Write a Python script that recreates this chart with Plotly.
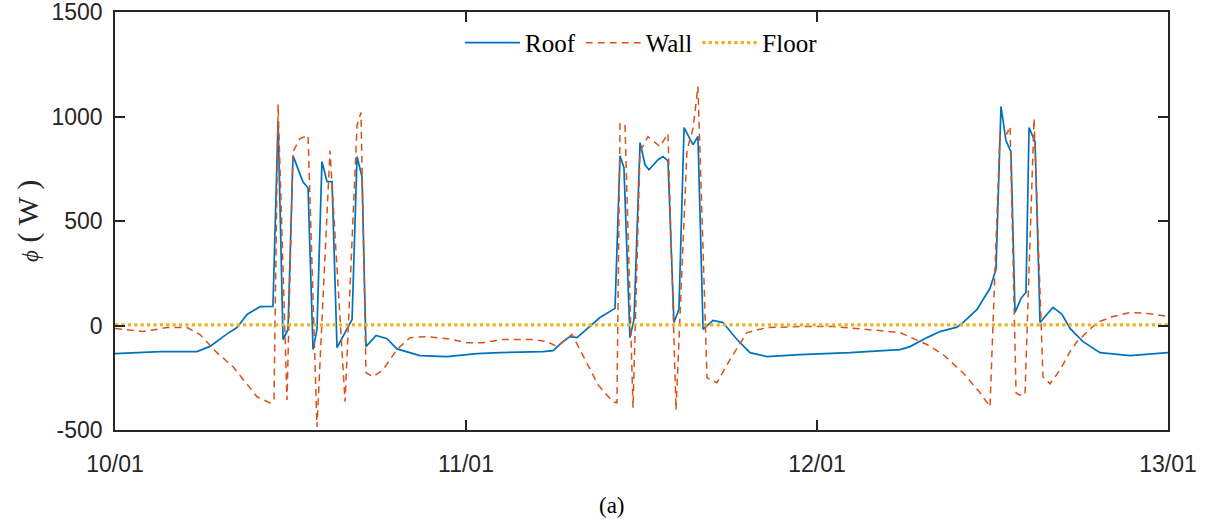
import plotly.graph_objects as go

# time in hours from 10/01 00:00
roof_h = [0, 3.08, 5.61, 6.50, 7.66, 8.34, 9.03, 9.91, 10.80, 11.15, 11.49, 11.83, 12.17, 12.85, 13.20,
          13.54, 13.81, 14.15, 14.50, 14.84, 15.18, 16.21, 16.55, 16.89, 17.16, 17.85, 18.60, 19.28,
          20.85, 22.70, 24.75, 26.32, 29.26, 29.95, 30.63, 31.11, 31.59, 32.48, 33.16, 34.19, 34.53,
          34.80, 35.21, 35.49, 35.90, 36.24, 36.51, 37.13, 37.47, 37.81, 38.22, 38.56, 38.91, 39.52,
          39.86, 40.21, 40.89, 41.57, 42.53, 43.42, 44.58, 46.84, 50.26, 53.68, 54.36, 55.52, 56.41,
          57.57, 57.98, 58.94, 59.83, 60.24, 60.58, 60.92, 61.26, 61.54, 61.95, 62.29, 62.50, 62.91,
          63.25, 63.59, 64.14, 64.75, 65.30, 66.19, 67.35, 69.40, 72]
roof_val = [-135, -125, -125, -100, -40, -10, 53, 90, 91, 976, -67, -19, 813, 687, 658,
            -115, -19, 784, 688, 688, -106, 29, 808, 711, -101, -48, -63, -112,
            -144, -149, -135, -130, -125, -120, -77, -53, -58, -5, 38, 82, 812,
            755, -58, 29, 875, 769, 745, 793, 808, 788, 14, 77, 947, 865,
            904, -19, 24, 14, -67, -130, -149, -139, -130, -115, -101, -58, -29,
            -8, 14, 77, 178, 269, 1048, 885, 832, 62, 130, 159, 947, 880,
            14, 43, 87, 53, -14, -77, -130, -144, -130]

wall_h = [0, 1.91, 3.56, 4.92, 5.81, 6.97, 8.07, 9.03, 9.71, 10.60, 10.87, 11.15, 11.76, 12.17,
          12.65, 13.20, 13.81, 14.70, 15.73, 16.55, 16.82, 17.16, 17.64, 18.32, 19.28, 20.17, 21.33,
          22.70, 24.07, 25.16, 26.53, 28.58, 29.54, 30.22, 31.25, 31.79, 32.48, 33.03, 34.05, 34.32,
          34.53, 34.87, 35.42, 35.90, 36.44, 37.26, 37.81, 38.36, 39.11, 39.52, 39.86, 40.48, 41.16,
          42.05, 43.21, 44.58, 46.84, 49.09, 51.42, 53.68, 55.52, 56.62, 57.98, 59.15, 59.83, 60.51,
          60.99, 61.20, 61.61, 61.81, 62.22, 62.84, 63.45, 63.93, 64.62, 65.30, 65.78, 67.15, 68.24,
          69.40, 70.56, 72]
wall_val = [-14, -29, -10, -10, -43, -130, -197, -284, -341, -370, -360, 1058, -356, 832,
            894, 909, -486, 837, -365, 957, 1019, -226, -245, -212, -115, -58, -53,
            -63, -82, -82, -67, -67, -77, -101, -43, -115, -212, -284, -365, -370,
            966, 962, -394, 832, 904, 856, 918, -404, 837, 942, 1144, -250, -274,
            -163, -34, -10, -5, -5, -19, -34, -91, -139, -226, -322, -389, 918,
            918, 952, -322, -332, -332, 990, -245, -279, -212, -125, -77, 14, 43,
            62, 58, 43]

floor_h = [0, 72]
floor_val = [3, 3]

x_tickvals = [0, 24, 48, 72]
x_ticktext = ["10/01", "11/01", "12/01", "13/01"]
y_tickvals = [-500, 0, 500, 1000, 1500]
y_ticktext = ["-500", "0", "500", "1000", "1500"]

SERIF = "Liberation Serif, DejaVu Serif, serif"
SANS = "Liberation Sans, Arial, sans-serif"

fig = go.Figure()
fig.add_trace(go.Scatter(x=roof_h, y=roof_val, mode="lines", name="Roof",
                         line=dict(color="#0072BD", width=1.7)))
fig.add_trace(go.Scatter(x=wall_h, y=wall_val, mode="lines", name="Wall",
                         line=dict(color="#D95319", width=1.5, dash="7px,5px")))
fig.add_trace(go.Scatter(x=floor_h, y=floor_val, mode="lines", name="Floor",
                         line=dict(color="#EDB120", width=3.2, dash="dot")))

axis_common = dict(showline=True, linecolor="#262626", linewidth=1.6, mirror="ticks",
                   ticks="inside", ticklen=10, tickcolor="#262626", tickwidth=1.6,
                   showgrid=False, zeroline=False, automargin=False,
                   ticklabeloverflow="allow",
                   tickfont=dict(family=SANS, size=23, color="#262626"))

fig.update_layout(
    width=1210, height=522,
    margin=dict(l=115, r=42, t=12, b=92, autoexpand=False),
    plot_bgcolor="white", paper_bgcolor="white",
    xaxis=dict(range=[0, 72], tickvals=x_tickvals, ticktext=x_ticktext,
               ticklabelstandoff=13, **axis_common),
    yaxis=dict(range=[-500, 1500], tickvals=y_tickvals, ticktext=y_ticktext,
               ticklabelstandoff=6, **axis_common),
    legend=dict(orientation="h", x=0.5, xanchor="center", y=0.926, yanchor="middle",
                bgcolor="rgba(255,255,255,0)", itemwidth=55,
                font=dict(family=SERIF, size=25, color="#000000")),
    showlegend=True,
)

# y-axis title
fig.add_annotation(text="<span style='font-size:23px'><i>ϕ</i></span> ( W )",
                   xref="paper", yref="paper", x=-0.0826, y=0.5,
                   xanchor="center", yanchor="middle", textangle=-90, showarrow=False,
                   font=dict(family=SERIF, size=30, color="#262626"))

# caption
fig.add_annotation(text="(a)", xref="paper", yref="paper", x=0.472, y=-0.18,
                   xanchor="center", yanchor="middle", showarrow=False,
                   font=dict(family=SERIF, size=23, color="#000000"))

fig.write_html("out.html", config={"displayModeBar": False},
               post_script="document.body.style.margin='0';document.body.style.overflow='hidden';")
